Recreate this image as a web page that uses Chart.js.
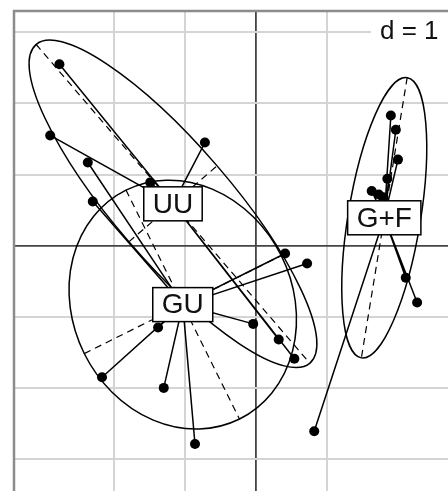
<!DOCTYPE html>
<html>
<head>
<meta charset="utf-8">
<script src="https://cdn.jsdelivr.net/npm/chart.js@4.4.0/dist/chart.umd.min.js"></script>
<style>
  html, body { margin: 0; padding: 0; background: #fff; }
</style>
</head>
<body>
<canvas id="grafico" width="448" height="491"></canvas>
<script>
// Grupos y coordenadas de los individuos (unidades del grafico, d = 1)
const grupos = ["UU", "GU", "G+F"];

const uuX = [-2.77, -2.90, -1.49, -0.72, 0.32, 0.54];
const uuY = [2.55, 1.55, 0.89, 1.45, -1.32, -1.59];

const guX = [-2.37, -2.30, -1.38, -2.17, -1.30, -0.86, -0.04, 0.41, 0.72];
const guY = [1.17, 0.62, -1.15, -1.85, -2.00, -2.79, -1.10, -0.11, -0.25];

const gfX = [1.90, 1.97, 2.00, 1.85, 1.63, 1.73, 1.79, 2.11, 2.27, 0.82];
const gfY = [1.83, 1.63, 1.21, 0.94, 0.77, 0.72, 0.68, -0.45, -0.80, -2.61];

// Elipses de inercia: semiejes y angulo del eje mayor (grados)
const ellA = [2.96, 1.80, 2.00];
const ellB = [0.82, 1.55, 0.51];
const ellAng = [130.7, 116.4, 80.7];

// Ventana del grafico
const xMin = -3.41, xMax = 2.705;
const yMin = -3.45, yMax = 3.30;
const etiquetaD = "d = 1";

const xsGrupos = [uuX, guX, gfX];
const ysGrupos = [uuY, guY, gfY];

const media = (arr) => arr.reduce((s, v) => s + v, 0) / arr.length;
const centros = xsGrupos.map((xs, i) => ({ x: media(xs), y: media(ysGrupos[i]) }));

// Estrella: centro -> punto -> centro -> punto ...
function estrella(xs, ys, c) {
  const pts = [];
  xs.forEach((x, i) => {
    pts.push({ x: c.x, y: c.y });
    pts.push({ x: x, y: ys[i] });
  });
  return pts;
}

const datasets = [];
xsGrupos.forEach((xs, i) => {
  datasets.push({
    data: estrella(xs, ysGrupos[i], centros[i]),
    showLine: true,
    borderColor: "#000",
    borderWidth: 1.5,
    pointRadius: 0,
    tension: 0,
    order: 2
  });
});
xsGrupos.forEach((xs, i) => {
  datasets.push({
    data: xs.map((x, j) => ({ x: x, y: ysGrupos[i][j] })),
    showLine: false,
    pointRadius: 5,
    pointBackgroundColor: "#000",
    pointBorderWidth: 0,
    order: 1
  });
});

const FUENTE = '"Liberation Sans", Arial, sans-serif';

// Elipses y sus ejes (debajo de las estrellas)
const pluginElipses = {
  id: "elipses",
  beforeDatasetsDraw(chart) {
    const { ctx, scales: { x, y } } = chart;
    ctx.save();
    centros.forEach((c, i) => {
      const px = x.getPixelForValue(c.x);
      const py = y.getPixelForValue(c.y);
      const unidad = x.getPixelForValue(1) - x.getPixelForValue(0);
      const ang = ellAng[i] * Math.PI / 180;
      ctx.strokeStyle = "#000";
      ctx.lineWidth = 1.5;
      ctx.setLineDash([]);
      ctx.beginPath();
      ctx.ellipse(px, py, ellA[i] * unidad, ellB[i] * unidad, -ang, 0, 2 * Math.PI);
      ctx.stroke();

      // ejes punteados
      ctx.lineWidth = 1.2;
      ctx.setLineDash([7, 5]);
      const ca = Math.cos(ang), sa = Math.sin(ang);
      const ejes = [
        [c.x + ellA[i] * ca, c.y + ellA[i] * sa, c.x - ellA[i] * ca, c.y - ellA[i] * sa],
        [c.x - ellB[i] * sa, c.y + ellB[i] * ca, c.x + ellB[i] * sa, c.y - ellB[i] * ca]
      ];
      ejes.forEach((e) => {
        ctx.beginPath();
        ctx.moveTo(x.getPixelForValue(e[0]), y.getPixelForValue(e[1]));
        ctx.lineTo(x.getPixelForValue(e[2]), y.getPixelForValue(e[3]));
        ctx.stroke();
      });
    });
    ctx.restore();
  },
  afterDatasetsDraw(chart) {
    const { ctx, chartArea, scales: { x, y } } = chart;
    ctx.save();
    ctx.setLineDash([]);
    // etiquetas de los grupos
    ctx.font = "28px " + FUENTE;
    ctx.textAlign = "center";
    ctx.textBaseline = "middle";
    centros.forEach((c, i) => {
      const px = x.getPixelForValue(c.x);
      const py = y.getPixelForValue(c.y);
      const w = ctx.measureText(grupos[i]).width + 18;
      const h = 34;
      ctx.fillStyle = "#fff";
      ctx.fillRect(px - w / 2, py - h / 2, w, h);
      ctx.strokeStyle = "#000";
      ctx.lineWidth = 1.5;
      ctx.strokeRect(px - w / 2, py - h / 2, w, h);
      ctx.fillStyle = "#111";
      ctx.fillText(grupos[i], px, py + 1);
    });

    // etiqueta d = 1
    ctx.fillStyle = "#fff";
    ctx.fillRect(371, chartArea.top + 1, chart.width - 371, 36);
    ctx.fillStyle = "#111";
    ctx.font = "26px " + FUENTE;
    ctx.textAlign = "left";
    ctx.textBaseline = "alphabetic";
    ctx.fillText(etiquetaD, 380, 39);

    // marco superior e izquierdo
    ctx.strokeStyle = "#8c8c8c";
    ctx.lineWidth = 2.5;
    ctx.beginPath();
    ctx.moveTo(chartArea.left, chart.height);
    ctx.lineTo(chartArea.left, chartArea.top);
    ctx.lineTo(chart.width, chartArea.top);
    ctx.stroke();
    ctx.restore();
  }
};

const colorRejilla = (c) => {
  const v = c.tick.value;
  if (Math.abs(v) < 1e-9) return "#444";
  if (Math.abs(v - Math.round(v)) < 1e-9) return "#d4d4d4";
  return "rgba(0,0,0,0)";
};
const anchoRejilla = (c) => (Math.abs(c.tick.value) < 1e-9 ? 1.8 : 2);

const chart = new Chart("grafico", {
  type: "scatter",
  data: { datasets: datasets },
  options: {
    responsive: false,
    animation: false,
    devicePixelRatio: 1,
    layout: { autoPadding: false, padding: { left: 14, top: 11, right: 0, bottom: 0 } },
    plugins: { legend: { display: false }, tooltip: { enabled: false } },
    scales: {
      x: {
        type: "linear",
        min: xMin,
        max: xMax,
        ticks: { display: false, stepSize: 1 },
        grid: { color: colorRejilla, lineWidth: anchoRejilla, drawTicks: false },
        border: { display: false },
        afterFit(axis) { axis.height = 0; }
      },
      y: {
        type: "linear",
        min: yMin,
        max: yMax,
        ticks: { display: false, stepSize: 1 },
        grid: { color: colorRejilla, lineWidth: anchoRejilla, drawTicks: false },
        border: { display: false },
        afterFit(axis) { axis.width = 0; }
      }
    }
  },
  plugins: [pluginElipses]
});
</script>
</body>
</html>
